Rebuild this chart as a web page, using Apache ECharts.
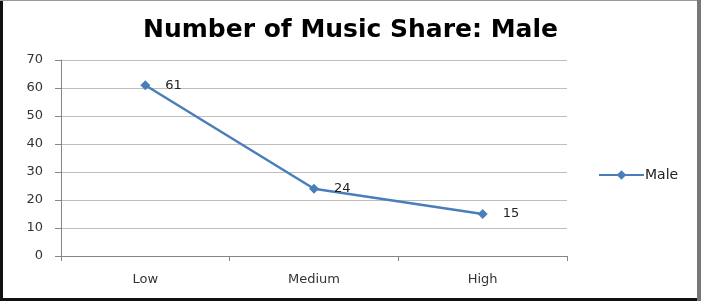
<!DOCTYPE html>
<html><head><meta charset="utf-8">
<script src="https://cdn.jsdelivr.net/npm/echarts@6/dist/echarts.min.js"></script>
<style>html,body{margin:0;padding:0;background:#fff}#c{width:701px;height:301px}</style>
</head><body><div id="c"></div>
<script>
const categories = ['Low', 'Medium', 'High'];
const maleValues = [61, 24, 15];
const yTicks = [0, 10, 20, 30, 40, 50, 60, 70];
const titleText = 'Number of Music Share: Male';
const seriesName = 'Male';

const chart = echarts.init(document.getElementById('c'), null, {renderer: 'canvas'});
chart.setOption({
  animation: false,
  backgroundColor: '#fff',
  title: {
    text: titleText, left: 'center', top: 13,
    textStyle: {fontFamily: 'DejaVu Sans', fontWeight: 'bold', fontSize: 25, color: '#000'}
  },
  legend: {
    data: [seriesName],
    left: 593, top: 163, itemWidth: 45, itemHeight: 12, itemGap: 2,
    textStyle: {fontFamily: 'DejaVu Sans', fontSize: 14, color: '#222', padding: [0,0,0,-4]}
  },
  grid: {left: 61, right: 134, top: 60, bottom: 45},
  xAxis: {
    type: 'category', data: categories, boundaryGap: true,
    axisLine: {lineStyle: {color: '#868686', width: 1}},
    axisTick: {show: true, length: 5, lineStyle: {color: '#868686'}},
    axisLabel: {fontFamily: 'DejaVu Sans', fontSize: 13, color: '#333', margin: 17}
  },
  yAxis: {
    type: 'value', min: yTicks[0], max: yTicks[yTicks.length-1], interval: 10,
    axisLine: {show: true, lineStyle: {color: '#868686', width: 1}},
    axisTick: {show: true, length: 6, lineStyle: {color: '#868686'}},
    axisLabel: {fontFamily: 'DejaVu Sans', fontSize: 13, color: '#333', margin: 18},
    splitLine: {lineStyle: {color: '#bdbdbd', width: 1}}
  },
  series: [{
    name: seriesName, type: 'line', data: maleValues,
    symbol: 'diamond', symbolSize: 10,
    lineStyle: {color: '#4a7ebb', width: 2.5},
    itemStyle: {color: '#4a7ebb'},
    label: {show: true, position: 'right', distance: 15, fontFamily: 'DejaVu Sans', fontSize: 13, color: '#222'}
  }],
  graphic: [
    {type: 'rect', left: 0, top: 0, shape: {width: 3, height: 301}, style: {fill: '#111'}},
    {type: 'rect', left: 0, top: 298, shape: {width: 701, height: 3}, style: {fill: '#111'}},
    {type: 'rect', left: 0, top: 0, shape: {width: 701, height: 1}, style: {fill: '#999'}},
    {type: 'rect', left: 697, top: 0, shape: {width: 4, height: 301}, style: {fill: '#777'}}
  ]
});
</script></body></html>
